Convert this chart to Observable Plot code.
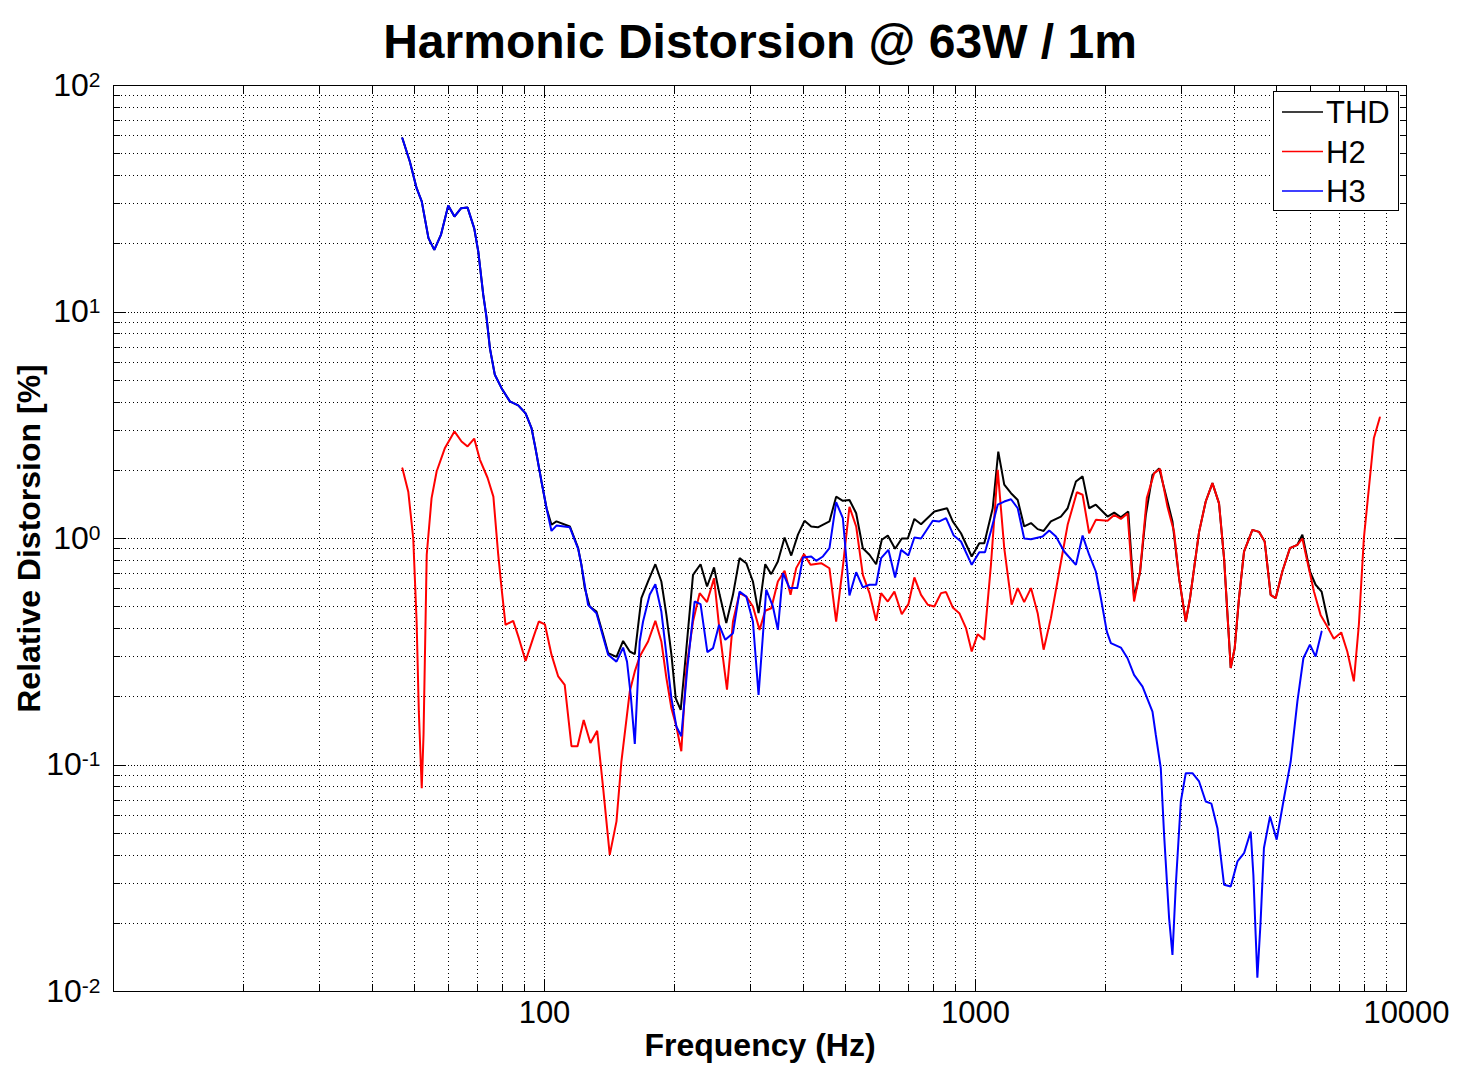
<!DOCTYPE html>
<html>
<head>
<meta charset="utf-8">
<script src="https://cdn.jsdelivr.net/npm/d3@7"></script>
<script src="https://cdn.jsdelivr.net/npm/@observablehq/plot@0.6"></script>
<style>
  body { margin: 0; background: #fff; }
  #wrap { position: relative; width: 1467px; height: 1082px; font-family: "Liberation Sans", Arial, sans-serif; }
  #legend { position: absolute; left: 1273px; top: 91px; width: 126px; height: 120px; border: 1px solid #000; background: #fff; box-sizing: border-box; }
</style>
</head>
<body>
<div id="wrap"></div>
<script>
// ---------- data: [frequency Hz, relative distortion %] ----------
const thd = [[46.8,58.5],[48.7,46.2],[50.5,35.2],[51.9,30.8],[53.8,21.2],[55.5,18.8],[57.5,21.9],[59.8,29.5],[61.8,26.4],[64.0,28.7],
[66.3,28.9],[68.7,23.4],[70.2,18.5],[72.1,11.9],[73.4,9.39],[74.7,6.92],[76.7,5.28],[79.5,4.61],[83.1,4.03],[86.9,3.87],
[90.4,3.57],[93.3,3.07],[95.3,2.50],[98.4,1.785],[101.1,1.36],[103.8,1.15],[106.6,1.19],[114.5,1.13],[119.7,0.906],[121.8,0.765],
[124.0,0.604],[127.3,0.501],[132.0,0.476],[136.8,0.376],[140.5,0.312],[146.9,0.30],[152.2,0.353],[157.7,0.317],[162.0,0.309],[167.8,0.545],
[173.9,0.646],[180.8,0.770],[186.7,0.646],[191.8,0.46],[197.0,0.307],[201.6,0.197],[207.0,0.175],[211.4,0.268],[221.1,0.691],[230.2,0.770],
[238.3,0.614],[247.4,0.745],[254.9,0.564],[264.1,0.423],[273.7,0.564],[283.5,0.819],[293.9,0.778],[304.5,0.646],[313.8,0.468],[325.2,0.770],
[335.8,0.696],[347.9,0.792],[360.6,1.01],[373.7,0.841],[387.3,1.04],[401.1,1.197],[415.7,1.13],[430.8,1.12],[458.3,1.19],[475.0,1.53],
[492.3,1.467],[510.0,1.48],[528.6,1.293],[547.8,0.906],[567.5,0.848],[588.1,0.770],[606.2,0.987],[625.9,1.03],[650.8,0.901],[674.5,1.00],
[696.5,1.0],[721.4,1.22],[747.6,1.156],[802.8,1.316],[859.0,1.36],[885.5,1.19],[925.5,1.055],[980.0,0.833],[1020.5,0.953],[1048.1,0.953],
[1096.3,1.36],[1129.4,2.42],[1166,1.73],[1209,1.585],[1253,1.48],[1297,1.13],[1345,1.17],[1394,1.10],[1439,1.08],[1496,1.19],
[1578,1.25],[1636,1.36],[1710,1.785],[1772,1.88],[1835,1.36],[1902,1.41],[2025,1.25],[2098,1.30],[2174,1.24],[2262,1.316],
[2333,0.55],[2409,0.71],[2484,1.27],[2574,1.91],[2667,2.04],[2764,1.56],[2864,1.19],[2967,0.668],[3075,0.43],[3146,0.545],
[3302,1.07],[3421,1.457],[3546,1.755],[3673,1.43],[3773,0.819],[3910,0.268],[3994,0.328],[4087,0.545],[4198,0.876],[4390,1.092],
[4547,1.07],[4688,0.97],[4840,0.564],[4971,0.545],[5151,0.715],[5364,0.906],[5582,0.938],[5733,1.04],[5970,0.715],[6154,0.625],
[6353,0.583],[6604,0.416]];

const h2 = [[46.8,2.04],[48.3,1.61],[49.6,1.0],[50.5,0.43],[51.1,0.172],[51.9,0.079],[52.4,0.136],[53.3,0.848],[54.7,1.507],[56.2,1.976],
[58.7,2.50],[61.8,2.97],[64.2,2.68],[66.3,2.55],[68.7,2.76],[70.8,2.23],[73.8,1.85],[76.1,1.53],[78.1,0.848],[79.5,0.604],
[81.2,0.416],[84.6,0.433],[87.2,0.363],[90.4,0.288],[94.1,0.363],[97.0,0.430],[100.2,0.418],[103.8,0.307],[107.6,0.246],[111.4,0.226],
[115.5,0.121],[119.3,0.121],[123.3,0.158],[127.8,0.125],[132.5,0.1416],[136.8,0.079],[141.7,0.0401],[146.9,0.0564],[150.8,0.1036],[157.7,0.211],
[162.0,0.259],[166.3,0.301],[173.9,0.351],[180.8,0.433],[186.7,0.351],[191.8,0.242],[197.0,0.178],[202.3,0.148],[207.7,0.115],[213.4,0.268],
[221.1,0.430],[229.1,0.574],[238.3,0.524],[247.4,0.668],[254.9,0.388],[265.1,0.215],[273.7,0.430],[283.5,0.574],[293.9,0.554],[304.5,0.501],
[315.5,0.395],[325.2,0.48],[335.8,0.492],[347.9,0.646],[360.6,0.720],[372.3,0.564],[383.7,0.740],[399.9,0.853],[414.2,0.765],[438.5,0.778],
[458.3,0.739],[475.0,0.430],[492.3,0.752],[510.0,1.38],[528.6,1.13],[547.8,0.691],[567.5,0.574],[588.1,0.433],[603.9,0.574],[625.9,0.527],
[648.4,0.583],[674.5,0.463],[698.7,0.513],[721.4,0.673],[747.6,0.564],[775.0,0.51],[802.8,0.501],[831.8,0.574],[854.4,0.58],[885.5,0.496],
[917.3,0.468],[950.6,0.402],[980.0,0.317],[1011.8,0.378],[1048.1,0.357],[1086,0.765],[1126,2.01],[1166,0.906],[1213,0.51],[1253,0.604],
[1297,0.524],[1345,0.604],[1394,0.468],[1439,0.323],[1496,0.445],[1564,0.715],[1636,1.149],[1719,1.60],[1772,1.56],[1835,1.055],
[1902,1.209],[2025,1.197],[2098,1.27],[2174,1.22],[2253,1.29],[2333,0.527],[2409,0.715],[2497,1.507],[2597,1.94],[2681,2.03],
[2789,1.38],[2889,1.07],[2967,0.668],[3075,0.430],[3146,0.545],[3302,1.07],[3421,1.457],[3546,1.755],[3673,1.43],[3773,0.819],
[3910,0.268],[3994,0.328],[4087,0.545],[4198,0.876],[4390,1.092],[4547,1.07],[4688,0.97],[4840,0.564],[4971,0.545],[5151,0.715],
[5364,0.906],[5582,0.938],[5733,1.0],[5888,0.792],[6099,0.583],[6319,0.46],[6548,0.409],[6783,0.361],[7056,0.385],[7288,0.317],
[7549,0.234],[7753,0.416],[7962,1.0],[8253,1.976],[8399,2.77],[8672,3.42]];

const h3 = [[46.8,58.5],[48.7,46.2],[50.5,35.2],[51.9,30.8],[53.8,21.2],[55.5,18.8],[57.5,21.9],[59.8,29.5],[61.8,26.4],[64.0,28.7],
[66.3,28.9],[68.7,23.4],[70.2,18.5],[72.1,11.9],[73.4,9.39],[74.7,6.92],[76.7,5.28],[79.5,4.61],[83.1,4.03],[86.9,3.87],
[90.4,3.57],[93.3,3.07],[95.3,2.50],[98.4,1.785],[101.1,1.36],[103.8,1.08],[106.6,1.14],[114.5,1.12],[119.7,0.90],[121.8,0.765],
[126.2,0.51],[132.0,0.468],[140.5,0.307],[146.9,0.286],[152.2,0.330],[155.4,0.286],[158.5,0.204],[162.0,0.124],[166.3,0.351],[169.3,0.430],
[175.4,0.564],[180.8,0.628],[186.7,0.476],[191.8,0.307],[197.0,0.197],[202.3,0.148],[207.7,0.134],[214.5,0.268],[223.0,0.527],[230.2,0.513],
[238.7,0.315],[246.0,0.328],[254.1,0.416],[262.7,0.357],[273.7,0.382],[283.5,0.583],[293.9,0.554],[304.5,0.430],[313.8,0.204],[322.9,0.430],
[326.9,0.594],[338.8,0.501],[347.9,0.395],[357.5,0.703],[370.3,0.604],[385.9,0.604],[397.8,0.824],[415.7,0.833],[426.9,0.797],[442.5,0.833],
[458.3,0.906],[475.0,1.446],[492.3,1.229],[510.0,0.560],[528.6,0.710],[547.8,0.608],[567.5,0.625],[588.1,0.625],[603.9,0.819],[628.0,0.891],
[650.8,0.673],[671.9,0.891],[698.7,0.841],[721.4,1.01],[747.6,1.0],[795.9,1.197],[824.4,1.19],[854.4,1.229],[890.2,1.03],[925.5,0.97],
[980.0,0.765],[1020.5,0.870],[1052,0.870],[1086,1.08],[1126,1.41],[1166,1.456],[1209,1.49],[1253,1.36],[1297,1.0],[1345,0.993],
[1431,1.02],[1483,1.085],[1537,1.02],[1606,0.876],[1710,0.765],[1772,1.03],[1835,0.848],[1902,0.715],[1954,0.545],[2017,0.388],
[2061,0.345],[2174,0.33],[2253,0.296],[2333,0.25],[2441,0.222],[2574,0.172],[2620,0.136],[2691,0.0968],[2739,0.0492],[2813,0.0211],
[2864,0.0145],[2916,0.0296],[2995,0.069],[3075,0.092],[3187,0.092],[3302,0.0846],[3421,0.069],[3527,0.0675],[3642,0.0526],[3773,0.0296],
[3910,0.0291],[4053,0.0375],[4198,0.0408],[4350,0.0508],[4413,0.0327],[4467,0.0178],[4508,0.0115],[4587,0.0204],[4669,0.043],[4823,0.0593],
[4998,0.0468],[5196,0.0713],[5386,0.1036],[5582,0.1906],[5764,0.296],[5970,0.340],[6154,0.301],[6353,0.388]];

const seriesNames = ["THD", "H2", "H3"];
const seriesColors = ["#000000", "#ff0000", "#0000ff"];

const xMajor = [10, 100, 1000, 10000];
const xMinor = [20,30,40,50,60,70,80,90, 200,300,400,500,600,700,800,900, 2000,3000,4000,5000,6000,7000,8000,9000];
const xLabels = [100, 1000, 10000];
const yMajor = [0.01, 0.1, 1, 10, 100];
const yMinor = [0.02,0.03,0.04,0.05,0.06,0.07,0.08,0.09, 0.2,0.3,0.4,0.5,0.6,0.7,0.8,0.9, 2,3,4,5,6,7,8,9, 20,30,40,50,60,70,80,90];

const titleText = "Harmonic Distorsion @ 63W / 1m";
const xLabelText = "Frequency (Hz)";
const yLabelText = "Relative Distorsion [%]";

// ---------- build table ----------
const rows = [];
[thd, h2, h3].forEach((s, i) => s.forEach(([f, v]) => rows.push({series: seriesNames[i], f, v})));

const font = '"Liberation Sans", Arial, Helvetica, sans-serif';
const crisp = {shapeRendering: "crispEdges"};
const gridStyle = {stroke: "#000", strokeOpacity: 1, strokeWidth: 1, strokeDasharray: "1,3", ...crisp};
const gridMajorStyle = {stroke: "#000", strokeOpacity: 1, strokeWidth: 1, strokeDasharray: "1,2", ...crisp};

const chart = Plot.plot({
  width: 1467,
  height: 1082,
  marginLeft: 113,
  marginRight: 61,
  marginTop: 85,
  marginBottom: 91,
  style: {fontFamily: font, fontSize: "31px", color: "#000", background: "#fff", overflow: "visible"},
  x: {type: "log", domain: [10, 10000]},
  y: {type: "log", domain: [0.01, 100]},
  color: {domain: seriesNames, range: seriesColors},
  marks: [
    Plot.gridX(xMinor, gridStyle),
    Plot.gridX(xMajor.slice(1, -1), gridMajorStyle),
    Plot.gridY(yMinor, gridStyle),
    Plot.gridY(yMajor.slice(1, -1), gridMajorStyle),
    // inward tick marks on all four sides
    Plot.axisX(xMinor, {anchor: "bottom", tickSize: -7, fill: "none", label: null, ...crisp}),
    Plot.axisX(xMajor, {anchor: "bottom", tickSize: -12, fill: "none", label: null, ...crisp}),
    Plot.axisX(xMinor, {anchor: "top", tickSize: -7, fill: "none", label: null, ...crisp}),
    Plot.axisX(xMajor, {anchor: "top", tickSize: -12, fill: "none", label: null, ...crisp}),
    Plot.axisY(yMinor, {anchor: "left", tickSize: -7, fill: "none", label: null, ...crisp}),
    Plot.axisY(yMajor, {anchor: "left", tickSize: -12, fill: "none", label: null, ...crisp}),
    Plot.axisY(yMinor, {anchor: "right", tickSize: -7, fill: "none", label: null, ...crisp}),
    Plot.axisY(yMajor, {anchor: "right", tickSize: -12, fill: "none", label: null, ...crisp}),
    // tick labels
    Plot.axisX(xLabels, {anchor: "bottom", tickSize: 0, tickPadding: 9, fontSize: 31, tickFormat: d => String(d), label: null}),
    Plot.axisY(yMajor, {anchor: "left", tickSize: 0, tickPadding: 13, fontSize: 32, tickFormat: d => "10^" + Math.round(Math.log10(d)), label: null}),
    Plot.frame({stroke: "#000", strokeWidth: 1, ...crisp}),
    Plot.line(rows, {x: "f", y: "v", z: "series", stroke: "series", strokeWidth: 2, strokeLinejoin: "miter"}),
    Plot.text([titleText], {text: d => d, frameAnchor: "top", dy: -43, fontSize: 48, fontWeight: "bold", lineAnchor: "middle"}),
    Plot.text([xLabelText], {text: d => d, frameAnchor: "bottom", dy: 54, fontSize: 32, fontWeight: "bold", lineAnchor: "middle", textAnchor: "middle"}),
    Plot.text([yLabelText], {text: d => d, frameAnchor: "left", dx: -84, rotate: -90, fontSize: 32, fontWeight: "bold", lineAnchor: "middle", textAnchor: "middle"})
  ]
});

// superscript exponents on the y tick labels
d3.select(chart).selectAll('g[aria-label="y-axis tick label"] text').each(function () {
  const parts = this.textContent.split("^");
  if (parts.length !== 2) return;
  const sel = d3.select(this);
  sel.text(null);
  sel.append("tspan").text(parts[0]);
  sel.append("tspan").attr("dy", "-0.42em").attr("font-size", "21px").text(parts[1]);
});

const wrap = document.getElementById("wrap");
wrap.appendChild(chart);

// legend (HTML overlay)
const legend = d3.select(wrap).append("div").attr("id", "legend");
const lsvg = legend.append("svg").attr("width", 124).attr("height", 118);
seriesNames.forEach((name, i) => {
  const cy = 20 + i * 39.5;
  lsvg.append("line").attr("x1", 8).attr("x2", 49).attr("y1", cy).attr("y2", cy)
    .attr("stroke", seriesColors[i]).attr("stroke-width", 1.5);
  lsvg.append("text").attr("x", 52).attr("y", cy).attr("dy", "0.36em")
    .attr("font-family", font).attr("font-size", 31).attr("fill", "#000").text(name);
});
</script>
</body>
</html>
